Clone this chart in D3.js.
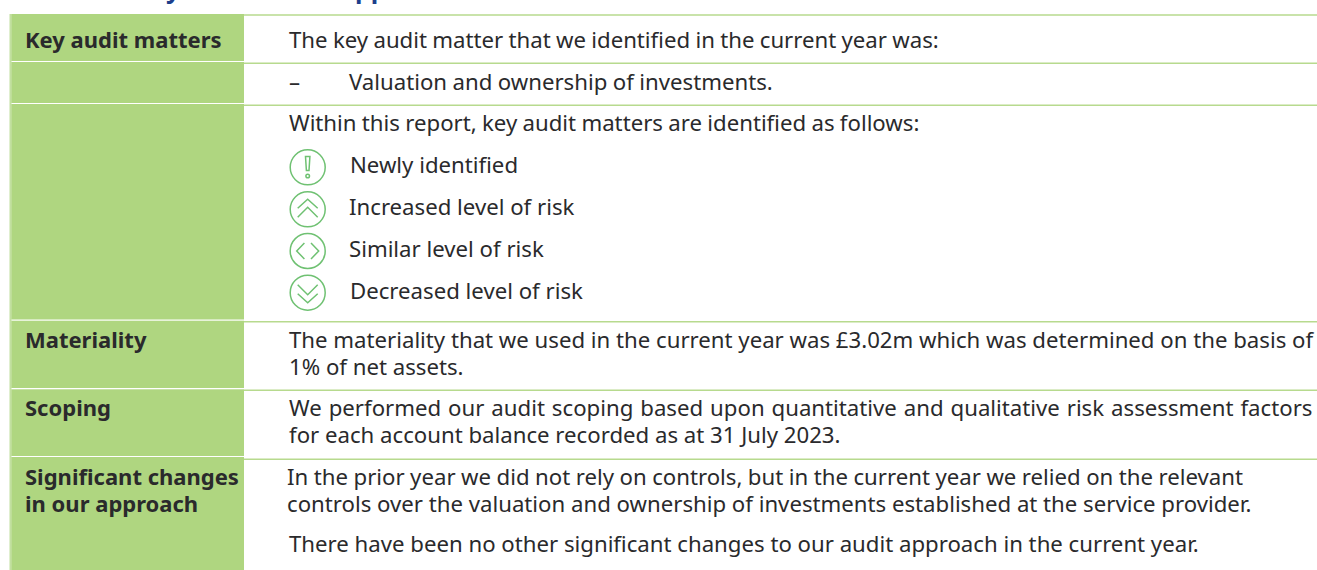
<!DOCTYPE html>
<html lang="en">
  <head>
    <meta charset="UTF-8" />
    <script src="https://d3js.org/d3.v7.min.js"></script>
    <title>Summary of our audit approach</title>
    <style>
      html, body { margin: 0; padding: 0; background: #fff; overflow: hidden; }
      svg { display: block; font-family: "Noto Sans", sans-serif; }
    </style>
  </head>
  <body>
    <svg width="1317" height="570"></svg>
    <script>
      const titleText = "Summary of our audit approach";

      // row boundaries
      const sideBands = [
        { top: 14, bottom: 61 },
        { top: 62, bottom: 103 },
        { top: 104, bottom: 319.5 },
        { top: 320.7, bottom: 388 },
        { top: 389.3, bottom: 456 },
        { top: 457, bottom: 570 },
      ];
      const ruleLines = [15, 63.3, 105.2, 321.7, 390.3, 459.2];

      const sideLabels = [
        { text: "Key audit matters", y: 48 },
        { text: "Materiality", y: 348 },
        { text: "Scoping", y: 416 },
        { text: "Significant changes", y: 485 },
        { text: "in our approach", y: 512 },
      ];

      // spread = word spacing tweak, the original is set slightly justified
      const bodyLines = [
        { text: "The key audit matter that we identified in the current year was:", x: 289, y: 48, spread: -0.45 },
        { text: "–", x: 289, y: 90 },
        { text: "Valuation and ownership of investments.", x: 349, y: 90, spread: -0.3 },
        { text: "Within this report, key audit matters are identified as follows:", x: 289, y: 131, spread: -0.44 },
        { text: "Newly identified", x: 350, y: 173 },
        { text: "Increased level of risk", x: 349, y: 215 },
        { text: "Similar level of risk", x: 349, y: 257 },
        { text: "Decreased level of risk", x: 350, y: 299 },
        { text: "The materiality that we used in the current year was £3.02m which was determined on the basis of", x: 289, y: 348 },
        { text: "1% of net assets.", x: 289, y: 375 },
        { text: "We performed our audit scoping based upon quantitative and qualitative risk assessment factors", x: 289, y: 416, spread: 1.2 },
        { text: "for each account balance recorded as at 31 July 2023.", x: 289, y: 443 },
        { text: "In the prior year we did not rely on controls, but in the current year we relied on the relevant", x: 287, y: 485, spread: -0.26 },
        { text: "controls over the valuation and ownership of investments established at the service provider.", x: 287, y: 512 },
        { text: "There have been no other significant changes to our audit approach in the current year.", x: 289, y: 552 },
      ];

      const riskIcons = [
        { kind: "new", cy: 167.3 },
        { kind: "up", cy: 209.3 },
        { kind: "same", cy: 251 },
        { kind: "down", cy: 292.7 },
      ];

      const svg = d3.select("svg");
      const green = "#afd680";
      const paleGreen = "#c2e0a0";
      const lineGreen = "#b7da8e";
      const iconGreen = "#6fc172";
      const ink = "#2a2a2c";

      // title sits mostly above the crop, only descenders show
      svg.append("text")
        .attr("x", 61)
        .attr("y", -2)
        .attr("font-size", 25)
        .attr("font-weight", 700)
        .attr("fill", "#1c3f8c")
        .text(titleText);

      svg.append("g")
        .selectAll("line")
        .data(ruleLines)
        .enter()
        .append("line")
        .attr("x1", 244)
        .attr("x2", 1317)
        .attr("y1", (d) => d)
        .attr("y2", (d) => d)
        .attr("stroke", lineGreen)
        .attr("stroke-width", 1.6);

      // lighter strip down the left edge of the side column
      svg.append("rect")
        .attr("x", 9.5)
        .attr("y", 14)
        .attr("width", 2)
        .attr("height", 556)
        .attr("fill", paleGreen);

      svg.append("g")
        .selectAll("rect")
        .data(sideBands)
        .enter()
        .append("rect")
        .attr("x", 11.3)
        .attr("width", 232.7)
        .attr("y", (d) => d.top)
        .attr("height", (d) => d.bottom - d.top)
        .attr("fill", green);

      svg.append("g")
        .selectAll("text")
        .data(sideLabels)
        .enter()
        .append("text")
        .attr("x", 25)
        .attr("y", (d) => d.y)
        .attr("font-size", 22)
        .attr("font-weight", 700)
        .attr("fill", ink)
        .text((d) => d.text);

      svg.append("g")
        .selectAll("text")
        .data(bodyLines)
        .enter()
        .append("text")
        .attr("x", (d) => d.x)
        .attr("y", (d) => d.y)
        .attr("font-size", 22.2)
        .attr("word-spacing", (d) => d.spread || 0)
        .attr("fill", ink)
        .text((d) => d.text);

      // little glyph paths inside the risk circles, centred on 0,0
      const iconPaths = {
        new: ["M-2.2,-10.7 L2.2,-10.7 L1.3,3.3 L-1.3,3.3 Z"],
        up: ["M-10,-1 L0,-10 L10,-1", "M-10,8 L0,-2 L10,8"],
        same: ["M-3.3,-8 L-11,0 L-3.3,8", "M3.3,-8 L11,0 L3.3,8"],
        down: ["M-10,1 L0,10 L10,1", "M-10,-8 L0,2 L10,-8"],
      };

      const icons = svg.append("g")
        .selectAll("g")
        .data(riskIcons)
        .enter()
        .append("g")
        .attr("transform", (d) => `translate(307.7,${d.cy})`)
        .attr("fill", "none")
        .attr("stroke", iconGreen)
        .attr("stroke-width", 1.5);

      icons.append("circle").attr("r", 17.5);

      icons.selectAll("path")
        .data((d) => iconPaths[d.kind])
        .enter()
        .append("path")
        .attr("d", (d) => d);

      icons.filter((d) => d.kind === "new")
        .append("circle")
        .attr("cy", 8.7)
        .attr("r", 1.8);
    </script>
  </body>
</html>
